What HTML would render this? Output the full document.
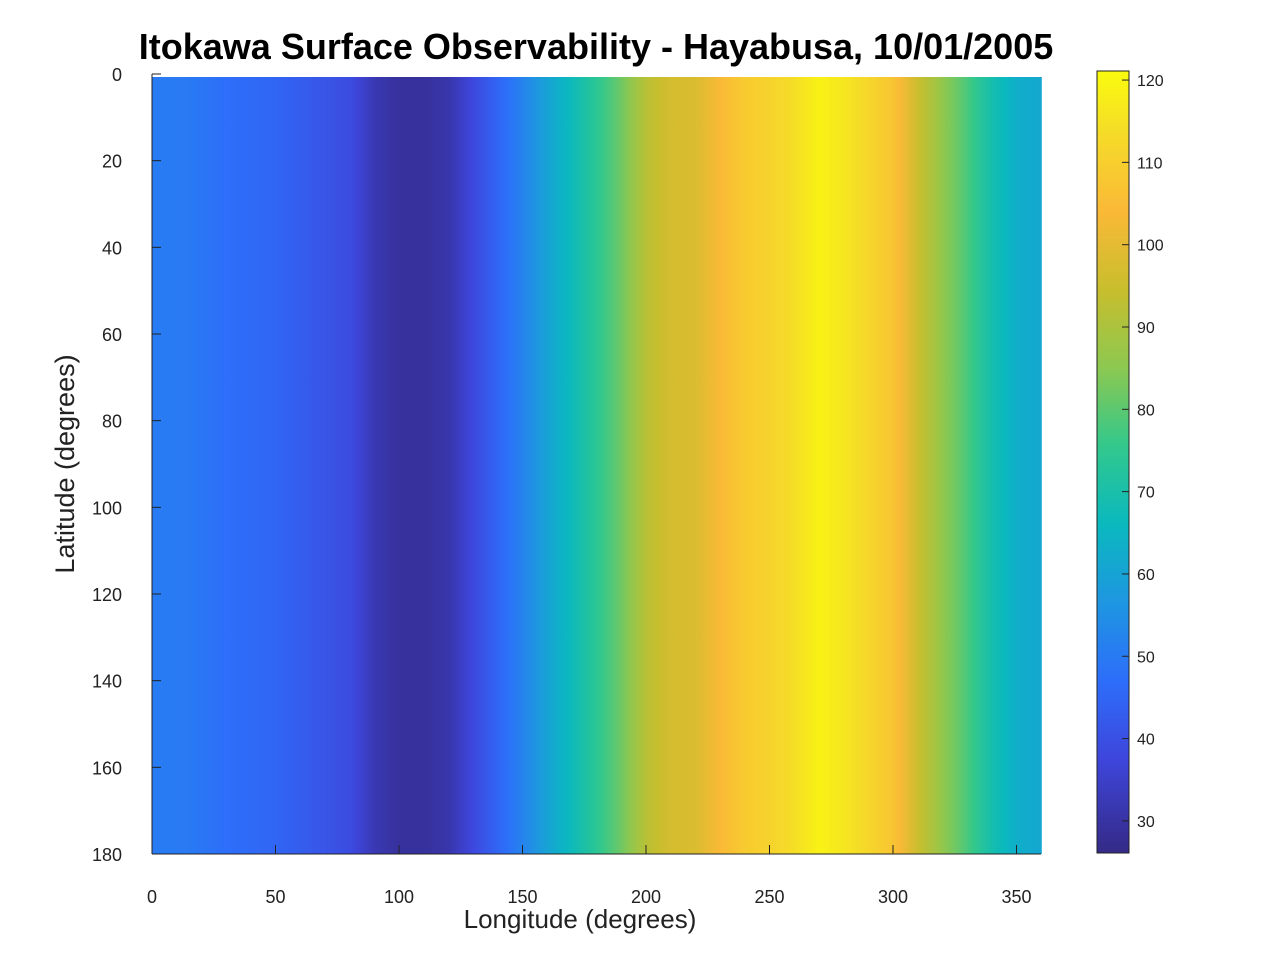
<!DOCTYPE html>
<html><head><meta charset="utf-8"><style>
body{margin:0;background:#fff;font-family:"Liberation Sans",sans-serif;}
svg text{font-family:"Liberation Sans",sans-serif;}
</style></head><body>
<svg id="c" width="1278" height="960" xmlns="http://www.w3.org/2000/svg">
<defs id="defs"></defs>
<text x="596" y="59" text-anchor="middle" font-size="36" font-weight="bold" fill="#000">Itokawa Surface Observability - Hayabusa, 10/01/2005</text>
<g id="cells"></g>
<g id="axes"></g>
<text x="580" y="928" text-anchor="middle" font-size="26" fill="#222">Longitude (degrees)</text>
<text transform="translate(74,464) rotate(-90)" text-anchor="middle" font-size="27" fill="#222">Latitude (degrees)</text>
<g id="cbar"></g>
</svg>
<script>
const longitudes=[0,10,20,30,40,50,60,70,80,90,100,110,120,130,140,150,160,170,180,190,200,210,220,230,240,250,260,270,280,290,300,310,320,330,340,350,360];
const values=[50,50,49,47,46,45,43,41,39,32,29,29,31,38,45,52,60,67,74,82,92,97,98,104,109,111,114,119,116,112,107,95,86,78,69,63,61];
const xTicks=[0,50,100,150,200,250,300,350];
const yTicks=[0,20,40,60,80,100,120,140,160,180];
const cTicks=[30,40,50,60,70,80,90,100,110,120];
const cMin=26.1,cMax=121.1;
const NS="http://www.w3.org/2000/svg";
const X0=152,XS=2.47,Y0=77,YS=(854-77)/180;
const xs=v=>X0+v*XS, ys=v=>Y0+v*YS;
const stops=[[0,53,42,135],[0.12,62,70,220],[0.22,45,110,250],[0.32,30,150,225],[0.42,10,185,190],[0.52,50,200,140],[0.62,140,200,80],[0.72,200,190,45],[0.82,250,185,55],[0.92,245,220,40],[1,249,251,14]];
function cmap(v){let t=Math.max(0,Math.min(1,(v-cMin)/(cMax-cMin)));for(let i=1;i<stops.length;i++){if(t<=stops[i][0]){const a=stops[i-1],b=stops[i],f=(t-a[0])/(b[0]-a[0]);return `rgb(${[1,2,3].map(k=>Math.round(a[k]+f*(b[k]-a[k]))).join(',')})`;}}return 'rgb(249,251,14)';}
function mk(tag,attrs,parent){const e=document.createElementNS(NS,tag);for(const k in attrs)e.setAttribute(k,attrs[k]);parent.appendChild(e);return e;}
const cells=document.getElementById('cells'),defs=document.getElementById('defs');
for(let i=0;i<longitudes.length-1;i++){
  const g=mk('linearGradient',{id:'g'+i,x1:0,x2:1,y1:0,y2:0},defs);
  for(let k=0;k<=4;k++){const v=values[i]+(values[i+1]-values[i])*k/4;mk('stop',{offset:k/4,'stop-color':cmap(v)},g);}
  const a=longitudes[i],b=longitudes[i+1];
  const r=mk('rect',{x:xs(a),y:ys(0),width:xs(b)-xs(a)+0.6,height:ys(180)-ys(0),fill:'url(#g'+i+')'},cells);
  
  
}
const ax=document.getElementById('axes');
mk('line',{x1:X0,y1:74,x2:X0,y2:854,stroke:'#222','stroke-width':1},ax);
mk('line',{x1:X0,y1:854,x2:1041,y2:854,stroke:'#222','stroke-width':1},ax);
xTicks.forEach(t=>{mk('line',{x1:xs(t),y1:854,x2:xs(t),y2:845,stroke:'#222'},ax);
const tx=mk('text',{x:xs(t),y:903,'text-anchor':'middle','font-size':18,fill:'#222'},ax);tx.textContent=t;

});
yTicks.forEach(t=>{const y=74+t*(780/180);mk('line',{x1:X0,y1:y,x2:X0+9,y2:y,stroke:'#222'},ax);
const tx=mk('text',{x:X0-30,y:y+7,'text-anchor':'end','font-size':18,fill:'#222'},ax);tx.textContent=t;

});
const cb=document.getElementById('cbar');
const CB0=853,CB1=71,cy=v=>CB0-(v-cMin)/(cMax-cMin)*(CB0-CB1);
for(let p=0;p<CB0-CB1;p+=2){const v=cMin+(p/(CB0-CB1))*(cMax-cMin);mk('rect',{x:1097,y:CB0-p-2,width:32,height:2.5,fill:cmap(v)},cb);}
mk('rect',{x:1097,y:CB1,width:32,height:CB0-CB1,fill:'none',stroke:'#222','stroke-width':1},cb);
cTicks.forEach(t=>{const y=cy(t);mk('line',{x1:1122,y1:y,x2:1129,y2:y,stroke:'#222'},cb);
const tx=mk('text',{x:1137,y:y+6,'font-size':16,fill:'#222'},cb);tx.textContent=t;

});
</script>
</body></html>
